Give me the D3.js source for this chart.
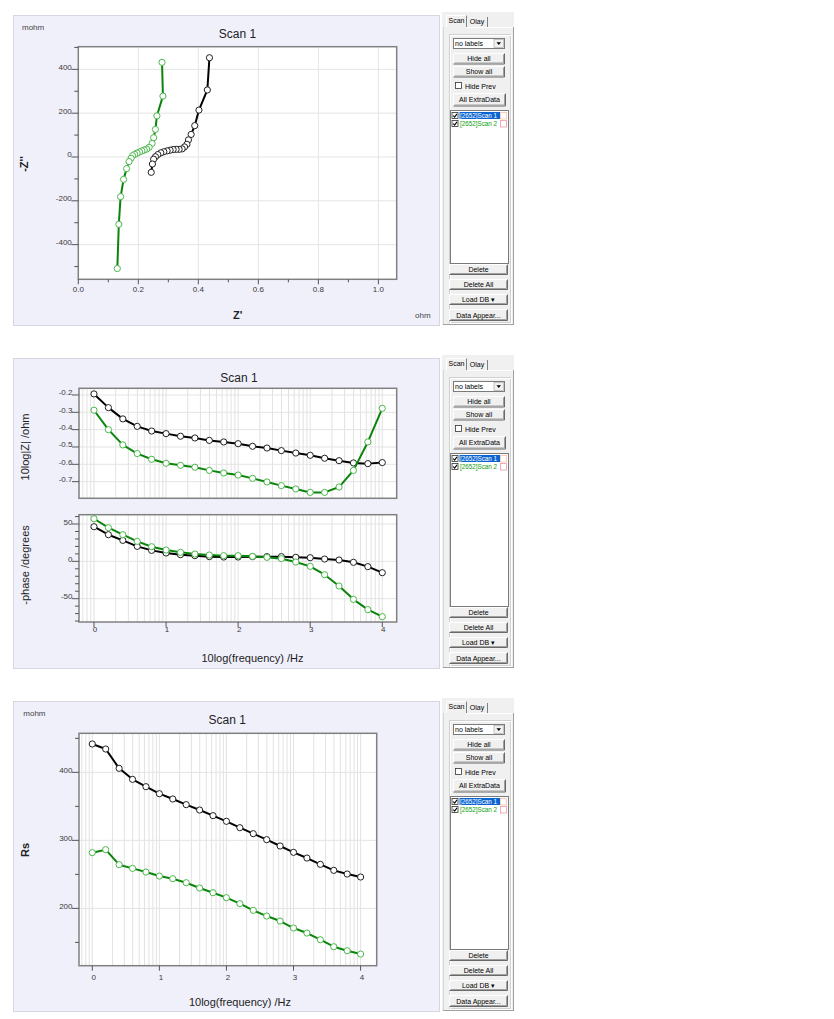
<!DOCTYPE html>
<html><head><meta charset="utf-8">
<script src="https://cdn.jsdelivr.net/npm/d3@7"></script>
<style>body{margin:0;background:#fff}svg{display:block}text{font-family:"Liberation Sans",Arial,sans-serif}</style>
</head><body>
<svg id="c" width="834" height="1019"></svg>
<script>
// ---------------- DATA ----------------
const seriesNames = ["[2652]Scan 1", "[2652]Scan 2"];
const logFreq = [0,0.2,0.4,0.6,0.8,1.0,1.2,1.4,1.6,1.8,2.0,2.2,2.4,2.6,2.8,3.0,3.2,3.4,3.6,3.8,4.0];

// Nyquist: Z' (ohm) and -Z'' (mohm), low frequency first
const nyqReScan1 = [0.437,0.430,0.402,0.388,0.376,0.367,0.362,0.354,0.346,0.336,0.326,0.316,0.306,0.296,0.285,0.275,0.265,0.257,0.251,0.247,0.243];
const nyqImScan1 = [453,306,214,143,103,78,58,46,37,35,35,34,31,28,24,19,11,1,-10,-32,-70];
const nyqReScan2 = [0.279,0.282,0.262,0.257,0.251,0.246,0.236,0.228,0.220,0.212,0.204,0.196,0.188,0.181,0.176,0.169,0.161,0.151,0.141,0.135,0.130];
const nyqImScan2 = [432,278,188,126,88,62,44,36,32,28,23,18,12,6,-6,-21,-53,-102,-181,-307,-509];

// Bode: log|Z| (ohm) and -phase (degrees)
const logZScan1 = [-0.194,-0.273,-0.338,-0.381,-0.408,-0.423,-0.438,-0.448,-0.462,-0.471,-0.481,-0.496,-0.506,-0.521,-0.535,-0.548,-0.565,-0.579,-0.592,-0.596,-0.590];
const logZScan2 = [-0.288,-0.400,-0.488,-0.538,-0.571,-0.594,-0.606,-0.617,-0.635,-0.650,-0.662,-0.681,-0.702,-0.723,-0.742,-0.762,-0.762,-0.731,-0.635,-0.471,-0.277];
const phaseScan1 = [46.4,35.7,28.1,20.1,14.7,11.2,8.9,7.6,6.3,5.8,5.8,6.3,6.3,6.3,5.4,4.9,3.1,1.8,-1.3,-7.1,-15.2];
const phaseScan2 = [57.1,45.1,35.7,26.8,19.6,15.2,12.1,9.8,8.5,7.6,7.6,6.7,5.4,3.6,-0.9,-6.7,-17.9,-33.0,-50.9,-64.7,-74.1];

// Rs (mohm)
const rsScan1 = [441.7,434.3,405.9,389.7,378.9,368.6,360.8,352.5,344.6,336.3,328.0,318.6,309.8,301.0,291.7,282.4,274.0,264.7,255.9,250.5,246.1];
const rsScan2 = [281.9,286.3,264.2,258.8,253.4,247.5,243.6,237.7,229.9,223.0,215.7,206.9,197.1,188.7,181.4,171.1,163.7,153.9,143.6,137.7,132.8];

// Ticks
const nyqXTicks = [0,0.2,0.4,0.6,0.8,1.0];
const nyqXMinor = [0.1,0.3,0.5,0.7,0.9];
const nyqYTicks = [400,200,0,-200,-400];
const nyqYMinor = [500,300,100,-100,-300,-500];
const logZTicks = [-0.2,-0.3,-0.4,-0.5,-0.6,-0.7];
const phaseTicks = [50,0,-50];
const phaseMinor = [60,40,30,20,10,-10,-20,-30,-40,-60,-70,-80];
const rsTicks = [400,300,200];
const rsMinor = [450,350,250,150];
const freqTicks = [0,1,2,3,4];

const sideButtonsTop = ["Hide all","Show all"];
const sideButtonsBottom = ["Delete","Delete All","Load DB \u25BE","Data Appear..."];

// ---------------- STYLE ----------------
const COL1 = {line:"#000000", mark:"#222222"};
const COL2 = {line:"#0a840a", mark:"#4cb84c"};
const svg = d3.select("#c");

function panelBg(dy){
  svg.append("rect").attr("x",13.5).attr("y",15.5+dy).attr("width",426).attr("height",310)
    .attr("fill","#f0f0fb").attr("stroke","#d6d6e2");
}

function txt(g,x,y,s,o={}){
  const t=g.append("text").attr("x",x).attr("y",y).text(s)
    .attr("font-size",o.size||8).attr("fill",o.fill||"#333")
    .attr("text-anchor",o.anchor||"start");
  if(o.weight) t.attr("font-weight",o.weight);
  if(o.rot) t.attr("transform",`rotate(-90,${x},${y})`).attr("dominant-baseline","central");
  return t;
}

function plot(o){
  const g=svg.append("g");
  const x=d3.scaleLinear().domain(o.xd).range([o.l,o.r]);
  const y=d3.scaleLinear().domain(o.yd).range([o.b,o.t]);
  g.append("rect").attr("x",o.l).attr("y",o.t).attr("width",o.r-o.l).attr("height",o.b-o.t).attr("fill","#fff");
  let vg=[];
  if(o.logGrid){
    for(let n=-1;n<=4;n++) for(let k=1;k<=9;k++){const v=n+Math.log10(k); if(v>o.xd[0]&&v<o.xd[1]) vg.push(v);}
  } else vg=o.xTicks.filter(v=>v>o.xd[0]);
  g.selectAll(null).data(vg).join("line").attr("x1",d=>x(d)).attr("x2",d=>x(d)).attr("y1",o.t).attr("y2",o.b)
    .attr("stroke",o.logGrid?"#dadada":"#e4e4e4").attr("stroke-width",o.logGrid?0.8:1);
  g.selectAll(null).data(o.yTicks).join("line").attr("x1",o.l).attr("x2",o.r).attr("y1",d=>y(d)).attr("y2",d=>y(d))
    .attr("stroke","#e4e4e4").attr("stroke-width",1);
  o.series.forEach(s=>{
    const line=d3.line().x(d=>x(d[0])).y(d=>y(d[1]));
    g.append("path").attr("d",line(s.pts)).attr("fill","none").attr("stroke",s.col.line).attr("stroke-width",2).attr("stroke-linejoin","round");
    g.selectAll(null).data(s.pts).join("circle").attr("cx",d=>x(d[0])).attr("cy",d=>y(d[1])).attr("r",3.1)
      .attr("fill","#fff").attr("stroke",s.col.mark).attr("stroke-width",1);
  });
  g.append("rect").attr("x",o.l).attr("y",o.t).attr("width",o.r-o.l).attr("height",o.b-o.t)
    .attr("fill","none").attr("stroke","#808080").attr("stroke-width",1.5);
  g.selectAll(null).data(o.yTicks).join("line").attr("x1",o.l-7).attr("x2",o.l).attr("y1",d=>y(d)).attr("y2",d=>y(d)).attr("stroke","#555");
  if(o.yMinor) g.selectAll(null).data(o.yMinor).join("line").attr("x1",o.l-4).attr("x2",o.l).attr("y1",d=>y(d)).attr("y2",d=>y(d)).attr("stroke","#555");
  o.yTicks.forEach(v=>txt(g,o.l-6.5,y(v)+0.5,o.yFmt(v),{anchor:"end",size:8,fill:"#3a3a3a"}));
  if(o.xLabels){
    g.selectAll(null).data(o.xTicks).join("line").attr("x1",d=>x(d)).attr("x2",d=>x(d)).attr("y1",o.b).attr("y2",o.b+5).attr("stroke","#555");
    if(o.xMinor) g.selectAll(null).data(o.xMinor).join("line").attr("x1",d=>x(d)).attr("x2",d=>x(d)).attr("y1",o.b).attr("y2",o.b+3).attr("stroke","#555");
    o.xTicks.forEach(v=>txt(g,x(v)+(o.xLabOff||0),o.b+o.xLabDy,o.xFmt(v),{anchor:"middle",size:8,fill:"#3a3a3a"}));
  }
  return g;
}

function pairs(xs,ys){return xs.map((v,i)=>[v,ys[i]]);}
const fmt1 = v=>v.toFixed(1);
const fmt0 = v=>String(v);

// ---------------- PANEL 1: Nyquist ----------------
panelBg(0);
plot({l:78.3,r:396.7,t:46.7,b:279.3,xd:[0,1.061],yd:[-558.2,503.4],
  xTicks:nyqXTicks,xMinor:nyqXMinor,yTicks:nyqYTicks,yMinor:nyqYMinor,xLabels:true,xLabDy:13,
  xFmt:fmt1,yFmt:fmt0,
  series:[{pts:pairs(nyqReScan1,nyqImScan1),col:COL1},{pts:pairs(nyqReScan2,nyqImScan2),col:COL2}]});
txt(svg,22,29.5,"mohm",{size:8,fill:"#444"});
txt(svg,237.5,38,"Scan 1",{size:12,anchor:"middle",fill:"#222"});
txt(svg,24,164,"-Z''",{size:11,anchor:"middle",weight:"bold",rot:true,fill:"#222"});
txt(svg,237.7,319,"Z'",{size:11,anchor:"middle",weight:"bold",fill:"#222"});
txt(svg,415,318,"ohm",{size:8,fill:"#444"});

// ---------------- PANEL 2: Bode ----------------
panelBg(343);
plot({l:79,r:396.7,t:388.3,b:498.3,xd:[-0.208,4.2],yd:[-0.796,-0.1615],logGrid:true,
  xTicks:freqTicks,yTicks:logZTicks,xLabels:false,yFmt:fmt1,
  series:[{pts:pairs(logFreq,logZScan1),col:COL1},{pts:pairs(logFreq,logZScan2),col:COL2}]});
plot({l:79,r:396.7,t:514.7,b:622,xd:[-0.208,4.2],yd:[-81.25,62.5],logGrid:true,
  xTicks:freqTicks,yTicks:phaseTicks,yMinor:phaseMinor,xLabels:true,xLabDy:10,xLabOff:1,
  xFmt:fmt0,yFmt:fmt0,
  series:[{pts:pairs(logFreq,phaseScan1),col:COL1},{pts:pairs(logFreq,phaseScan2),col:COL2}]});
txt(svg,239,381.5,"Scan 1",{size:12,anchor:"middle",fill:"#222"});
txt(svg,25,447,"10log|Z| /ohm",{size:11,anchor:"middle",rot:true,fill:"#222"});
txt(svg,25,565,"-phase /degrees",{size:11,anchor:"middle",rot:true,fill:"#222"});
txt(svg,252.5,661.5,"10log(frequency) /Hz",{size:11,anchor:"middle",fill:"#222"});

// ---------------- PANEL 3: Rs ----------------
panelBg(686);
plot({l:79,r:376.7,t:733.3,b:965.7,xd:[-0.198,4.24],yd:[115.7,457.4],logGrid:true,
  xTicks:freqTicks,yTicks:rsTicks,yMinor:rsMinor,xLabels:true,xLabDy:14,xLabOff:1.5,
  xFmt:fmt0,yFmt:fmt0,
  series:[{pts:pairs(logFreq,rsScan1),col:COL1},{pts:pairs(logFreq,rsScan2),col:COL2}]});
txt(svg,23.3,716,"mohm",{size:8,fill:"#444"});
txt(svg,227.3,724,"Scan 1",{size:12,anchor:"middle",fill:"#222"});
txt(svg,25,850,"Rs",{size:11,anchor:"middle",weight:"bold",rot:true,fill:"#222"});
txt(svg,240,1005.5,"10log(frequency) /Hz",{size:11,anchor:"middle",fill:"#222"});

// ---------------- SIDEBARS ----------------
function button(g,x,y,w,h,label){
  g.append("rect").attr("x",x).attr("y",y).attr("width",w).attr("height",h).attr("fill","#f0f0f0");
  g.append("path").attr("d",`M${x},${y+h}V${y}H${x+w}`).attr("fill","none").attr("stroke","#ffffff");
  g.append("path").attr("d",`M${x+w},${y}V${y+h}H${x}`).attr("fill","none").attr("stroke","#696969");
  g.append("path").attr("d",`M${x+w-1},${y+1}V${y+h-1}H${x+1}`).attr("fill","none").attr("stroke","#a0a0a0");
  txt(g,x+w/2,y+h/2+2.5,label,{size:7,anchor:"middle",fill:"#000"});
}
function checkbox(g,x,y,checked){
  g.append("rect").attr("x",x).attr("y",y).attr("width",6).attr("height",6).attr("fill","#fff").attr("stroke","#333").attr("stroke-width",0.8);
  if(checked) g.append("path").attr("d",`M${x+1.2},${y+3}L${x+2.6},${y+4.6}L${x+5},${y+1.4}`).attr("fill","none").attr("stroke","#000").attr("stroke-width",1.1);
}
function sidebar(dy){
  const g=svg.append("g").attr("transform",`translate(0,${dy})`);
  g.append("rect").attr("x",442).attr("y",12).attr("width",72).attr("height",313).attr("fill","#f0f0f0");
  g.append("line").attr("x1",443.5).attr("x2",443.5).attr("y1",27).attr("y2",325).attr("stroke","#d8d8d8");
  g.append("line").attr("x1",513.5).attr("x2",513.5).attr("y1",27).attr("y2",325).attr("stroke","#a0a0a0");
  g.append("line").attr("x1",443).attr("x2",514).attr("y1",324.5).attr("y2",324.5).attr("stroke","#a0a0a0");
  // tabs
  g.append("path").attr("d","M446.5,27V15.5H466.5V27").attr("fill","none").attr("stroke","#fff");
  g.append("line").attr("x1",466.5).attr("x2",466.5).attr("y1",15.5).attr("y2",27).attr("stroke","#808080");
  g.append("line").attr("x1",487.5).attr("x2",487.5).attr("y1",17).attr("y2",27).attr("stroke","#808080");
  g.append("line").attr("x1",466.5).attr("x2",513).attr("y1",27.5).attr("y2",27.5).attr("stroke","#fff");
  txt(g,456.5,23,"Scan",{size:7,anchor:"middle",fill:"#000"});
  txt(g,477,23.5,"Olay",{size:7,anchor:"middle",fill:"#000"});
  // group frame
  g.append("rect").attr("x",449.5).attr("y",34.5).attr("width",61).attr("height",288).attr("fill","none").attr("stroke","#d0d0d0");
  g.append("rect").attr("x",450.5).attr("y",35.5).attr("width",61).attr("height",288).attr("fill","none").attr("stroke","#ffffff");
  // dropdown
  g.append("rect").attr("x",453.5).attr("y",38.5).attr("width",51).attr("height",10).attr("fill","#fff").attr("stroke","#7a7a7a");
  g.append("rect").attr("x",494).attr("y",39.5).attr("width",9.5).attr("height",8).attr("fill","#f0f0f0").attr("stroke","#a0a0a0").attr("stroke-width",0.6);
  g.append("path").attr("d","M496.5,42.3H501L498.75,45Z").attr("fill","#000");
  txt(g,455,46.3,"no labels",{size:7,fill:"#000"});
  sideButtonsTop.forEach((b,i)=>button(g,453.5,53.5+i*13,51,10.5,b));
  checkbox(g,455.5,82.5,false);
  txt(g,465,88.5,"Hide Prev",{size:7,fill:"#000"});
  button(g,453.5,93.5,52,12.5,"All ExtraData");
  // list box
  g.append("rect").attr("x",450.5).attr("y",110.5).attr("width",58).attr("height",153).attr("fill","#fff").attr("stroke","#7a7a7a");
  seriesNames.forEach((n,i)=>{
    const yy=112.5+i*8;
    checkbox(g,452,yy,true);
    if(i===0) g.append("rect").attr("x",459.5).attr("y",yy-0.5).attr("width",40.5).attr("height",7).attr("fill","#0a64d2");
    txt(g,460,yy+5.8,n,{size:6.3,fill:i===0?"#fff":"#10a010"});
    g.append("rect").attr("x",500.5).attr("y",yy).attr("width",6).attr("height",6.5).attr("fill","#fff").attr("stroke",i===0?"#f5c0a8":"#f09aa8").attr("stroke-width",0.8);
  });
  sideButtonsBottom.forEach((b,i)=>button(g,449.5,264.5+i*15,58,i===3?11:10,b));
}
[0,343,686].forEach(sidebar);
</script>
</body></html>
